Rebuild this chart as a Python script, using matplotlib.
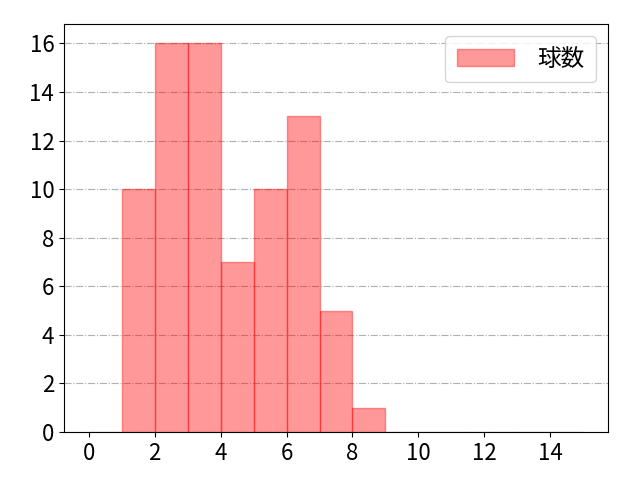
import matplotlib
matplotlib.use("Agg")
import matplotlib.pyplot as plt
import numpy as np

plt.rcParams['font.family'] = ['Noto Sans CJK JP', 'DejaVu Sans']
plt.rcParams['font.size'] = 16

bin_edges = list(range(0, 16))
counts = [0, 10, 16, 16, 7, 10, 13, 5, 1, 0, 0, 0, 0, 0, 0]
label = "球数"

fig, ax = plt.subplots(figsize=(6.4, 4.8), dpi=100)
ax.hist(bin_edges[:-1], bins=bin_edges, weights=counts, color='red', alpha=0.4,
        edgecolor='red', linewidth=1, label=label)
ax.set_xticks(range(0, 15, 2))
ax.grid(axis='y', linestyle='-.', color='#b0b0b0', linewidth=0.8)
ax.set_axisbelow(True)
ax.legend(loc='upper right', handlelength=2.4, borderpad=0.5, handletextpad=1.0,
          fontsize=17)
fig.subplots_adjust(left=0.1, right=0.95, bottom=0.1, top=0.95)
fig.savefig('out.png', dpi=100)
